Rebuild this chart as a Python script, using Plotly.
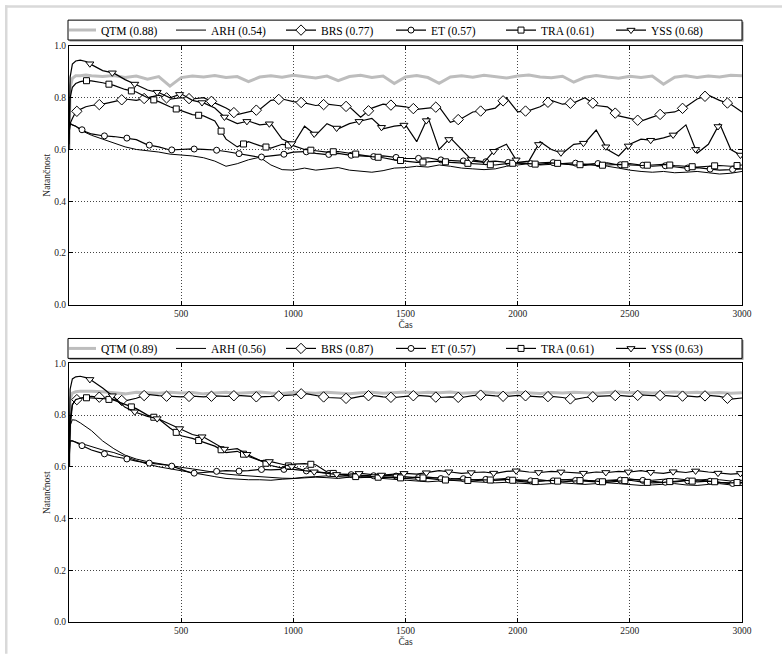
import numpy as np
import plotly.graph_objects as go

# time grid (x values)
T = [0, 5, 15, 30, 50, 75, 100] + list(range(150, 3001, 50))

# ---------------- top panel ----------------
QTM_A = [0.60, 0.84, 0.875, 0.885, 0.885, 0.888, 0.885,
         0.882, 0.886, 0.878, 0.884, 0.872, 0.882, 0.845, 0.878, 0.884, 0.880,
         0.886, 0.878, 0.882, 0.862, 0.880, 0.885, 0.879, 0.887,
         0.882, 0.876, 0.884, 0.866, 0.882, 0.887, 0.878, 0.884, 0.855, 0.880,
         0.886, 0.878, 0.856, 0.880, 0.885, 0.879, 0.887, 0.881, 0.876, 0.884,
         0.888, 0.880, 0.877, 0.883, 0.860, 0.879, 0.886, 0.880, 0.875, 0.883,
         0.878, 0.884, 0.852, 0.879, 0.885, 0.878, 0.884, 0.880, 0.887, 0.885]
ARH_A = [0.68, 0.70, 0.695, 0.69, 0.675, 0.665, 0.655,
         0.64, 0.625, 0.61, 0.60, 0.595, 0.59, 0.582, 0.578, 0.575, 0.568,
         0.555, 0.535, 0.545, 0.56, 0.57, 0.54, 0.522, 0.52,
         0.528, 0.52, 0.525, 0.53, 0.52, 0.515, 0.512, 0.518, 0.528, 0.53,
         0.535, 0.532, 0.54, 0.535, 0.528, 0.525, 0.522, 0.525, 0.535, 0.54,
         0.545, 0.54, 0.542, 0.545, 0.54, 0.538, 0.545, 0.535, 0.528, 0.52,
         0.515, 0.512, 0.515, 0.51, 0.512, 0.515, 0.51, 0.505, 0.508, 0.515]
BRS_A = [0.66, 0.70, 0.72, 0.745, 0.755, 0.765, 0.77,
         0.775, 0.785, 0.795, 0.79, 0.80, 0.81, 0.795, 0.80, 0.795, 0.80,
         0.78, 0.76, 0.735, 0.745, 0.755, 0.79, 0.795, 0.785,
         0.78, 0.77, 0.775, 0.77, 0.765, 0.725, 0.76, 0.775, 0.77, 0.765,
         0.755, 0.76, 0.765, 0.705, 0.72, 0.745, 0.75, 0.76, 0.80, 0.745,
         0.75, 0.765, 0.79, 0.775, 0.78, 0.80, 0.77, 0.765, 0.73, 0.72,
         0.71, 0.725, 0.74, 0.745, 0.765, 0.795, 0.81, 0.79, 0.775, 0.745]
ET_A = [0.66, 0.70, 0.695, 0.69, 0.68, 0.668, 0.66,
        0.653, 0.65, 0.645, 0.638, 0.618, 0.61, 0.598, 0.60, 0.602, 0.60,
        0.598, 0.592, 0.585, 0.578, 0.57, 0.575, 0.58, 0.59,
        0.592, 0.585, 0.58, 0.585, 0.578, 0.575, 0.572, 0.575, 0.57, 0.565,
        0.565, 0.568, 0.56, 0.558, 0.555, 0.56, 0.552, 0.555, 0.55, 0.548,
        0.545, 0.548, 0.55, 0.545, 0.548, 0.542, 0.545, 0.548, 0.54, 0.545,
        0.54, 0.535, 0.538, 0.532, 0.528, 0.53, 0.525, 0.52, 0.522, 0.525]
TRA_A = [0.62, 0.80, 0.84, 0.855, 0.862, 0.866, 0.865,
         0.858, 0.848, 0.832, 0.822, 0.80, 0.785, 0.765, 0.75, 0.735, 0.73,
         0.71, 0.64, 0.61, 0.63, 0.615, 0.605, 0.62, 0.615,
         0.60, 0.595, 0.59, 0.592, 0.585, 0.58, 0.572, 0.568, 0.56, 0.555,
         0.55, 0.552, 0.555, 0.55, 0.548, 0.545, 0.542, 0.54, 0.545, 0.548,
         0.545, 0.542, 0.548, 0.545, 0.54, 0.542, 0.538, 0.54, 0.542, 0.54,
         0.538, 0.54, 0.542, 0.538, 0.535, 0.532, 0.535, 0.538, 0.535, 0.54]
YSS_A = [0.60, 0.88, 0.93, 0.942, 0.945, 0.94, 0.928,
         0.905, 0.895, 0.87, 0.85, 0.83, 0.82, 0.80, 0.815, 0.79, 0.78,
         0.76, 0.72, 0.70, 0.71, 0.695, 0.70, 0.64, 0.62,
         0.69, 0.655, 0.70, 0.68, 0.70, 0.71, 0.72, 0.68, 0.69, 0.695,
         0.63, 0.725, 0.60, 0.645, 0.60, 0.555, 0.55, 0.60, 0.62, 0.55,
         0.555, 0.63, 0.60, 0.585, 0.62, 0.625, 0.675, 0.60, 0.575, 0.62,
         0.64, 0.635, 0.645, 0.658, 0.695, 0.585, 0.62, 0.70, 0.60, 0.575]

# ---------------- bottom panel ----------------
QTM_B = [0.60, 0.86, 0.885, 0.89, 0.892, 0.893, 0.892,
         0.89, 0.885, 0.882, 0.888, 0.886, 0.884, 0.888, 0.885, 0.887, 0.882,
         0.885, 0.888, 0.884, 0.886, 0.889, 0.885, 0.883, 0.888,
         0.886, 0.884, 0.888, 0.885, 0.882, 0.886, 0.888, 0.884, 0.887, 0.889,
         0.885, 0.888, 0.886, 0.889, 0.884, 0.887, 0.889, 0.886, 0.884, 0.888,
         0.886, 0.883, 0.887, 0.885, 0.888, 0.886, 0.884, 0.887, 0.889, 0.886,
         0.888, 0.885, 0.887, 0.889, 0.886, 0.888, 0.885, 0.887, 0.884, 0.886]
ARH_B = [0.60, 0.76, 0.782, 0.78, 0.77, 0.755, 0.74,
         0.70, 0.67, 0.645, 0.63, 0.62, 0.612, 0.605, 0.598, 0.592, 0.585,
         0.578, 0.572, 0.568, 0.565, 0.56, 0.558, 0.556, 0.555,
         0.56, 0.562, 0.565, 0.562, 0.56, 0.558, 0.56, 0.562, 0.558, 0.555,
         0.552, 0.555, 0.558, 0.555, 0.552, 0.55, 0.548, 0.552, 0.555, 0.55,
         0.548, 0.545, 0.548, 0.55, 0.552, 0.548, 0.545, 0.548, 0.55, 0.552,
         0.55, 0.548, 0.552, 0.555, 0.55, 0.548, 0.552, 0.55, 0.545, 0.548]
EXTRA_B = [0.62, 0.70, 0.70, 0.695, 0.69, 0.685, 0.678,
           0.665, 0.655, 0.64, 0.625, 0.61, 0.60, 0.592, 0.585, 0.578, 0.57,
           0.562, 0.555, 0.552, 0.55, 0.55, 0.548, 0.552, 0.555,
           0.558, 0.56, 0.558, 0.555, 0.56, 0.562, 0.558, 0.555, 0.55, 0.548,
           0.545, 0.542, 0.545, 0.548, 0.545, 0.542, 0.54, 0.538, 0.54, 0.538,
           0.535, 0.532, 0.535, 0.538, 0.535, 0.532, 0.535, 0.538, 0.535, 0.532,
           0.528, 0.53, 0.532, 0.535, 0.53, 0.528, 0.532, 0.535, 0.53, 0.528]
BRS_B = [0.62, 0.75, 0.84, 0.858, 0.865, 0.87, 0.872,
         0.868, 0.86, 0.855, 0.865, 0.88, 0.875, 0.872, 0.87, 0.873, 0.87,
         0.874, 0.872, 0.876, 0.872, 0.87, 0.872, 0.875, 0.878,
         0.884, 0.875, 0.868, 0.866, 0.864, 0.872, 0.876, 0.87, 0.868, 0.872,
         0.876, 0.873, 0.868, 0.87, 0.868, 0.875, 0.878, 0.874, 0.872, 0.876,
         0.874, 0.87, 0.872, 0.868, 0.86, 0.868, 0.872, 0.874, 0.876, 0.872,
         0.878, 0.875, 0.876, 0.872, 0.874, 0.87, 0.876, 0.872, 0.862, 0.866]
ET_B = [0.62, 0.70, 0.70, 0.695, 0.685, 0.675, 0.665,
        0.652, 0.64, 0.632, 0.622, 0.615, 0.61, 0.605, 0.59, 0.575, 0.578,
        0.582, 0.585, 0.583, 0.585, 0.59, 0.588, 0.59, 0.59,
        0.585, 0.58, 0.575, 0.572, 0.57, 0.568, 0.565, 0.568, 0.565, 0.56,
        0.558, 0.56, 0.555, 0.552, 0.555, 0.55, 0.552, 0.548, 0.55, 0.548,
        0.545, 0.55, 0.545, 0.55, 0.548, 0.545, 0.542, 0.545, 0.548, 0.552,
        0.548, 0.545, 0.54, 0.542, 0.545, 0.55, 0.545, 0.54, 0.535, 0.538]
TRA_B = [0.60, 0.78, 0.84, 0.86, 0.865, 0.867, 0.866,
         0.864, 0.858, 0.84, 0.825, 0.80, 0.785, 0.75, 0.72, 0.71, 0.695,
         0.68, 0.655, 0.66, 0.64, 0.625, 0.605, 0.595, 0.61,
         0.612, 0.608, 0.58, 0.57, 0.565, 0.56, 0.562, 0.558, 0.56, 0.555,
         0.56, 0.555, 0.55, 0.548, 0.55, 0.545, 0.55, 0.548, 0.552, 0.545,
         0.54, 0.545, 0.548, 0.542, 0.545, 0.548, 0.545, 0.54, 0.545, 0.548,
         0.542, 0.538, 0.54, 0.545, 0.548, 0.542, 0.545, 0.54, 0.538, 0.54]
YSS_B = [0.60, 0.90, 0.94, 0.948, 0.95, 0.945, 0.935,
         0.905, 0.87, 0.83, 0.81, 0.795, 0.785, 0.765, 0.745, 0.725, 0.715,
         0.69, 0.665, 0.67, 0.645, 0.625, 0.62, 0.61, 0.60,
         0.585, 0.58, 0.575, 0.57, 0.572, 0.575, 0.57, 0.568, 0.572, 0.575,
         0.572, 0.578, 0.585, 0.58, 0.575, 0.578, 0.58, 0.575, 0.582, 0.585,
         0.58, 0.578, 0.582, 0.58, 0.578, 0.575, 0.58, 0.578, 0.582, 0.58,
         0.585, 0.578, 0.575, 0.582, 0.578, 0.585, 0.58, 0.575, 0.572, 0.575]

LABELS_A = ["QTM (0.88)", "ARH (0.54)", "BRS (0.77)", "ET (0.57)", "TRA (0.61)", "YSS (0.68)"]
LABELS_B = ["QTM (0.89)", "ARH (0.56)", "BRS (0.87)", "ET (0.57)", "TRA (0.61)", "YSS (0.63)"]
X_TICKS = [500, 1000, 1500, 2000, 2500, 3000]
Y_TICKS = [0.0, 0.2, 0.4, 0.6, 0.8, 1.0]

FONT = "Liberation Serif, Times New Roman, serif"

# style per series: (line color, width, marker symbol, marker size, marker offset)
STYLES = [
    ("#bdbdbd", 3.0, None, 0, 0),
    ("black", 1.0, None, 0, 0),
    ("black", 1.2, "diamond", 8, 35),
    ("black", 1.2, "circle", 6, 58),
    ("black", 1.2, "square", 6, 78),
    ("black", 1.2, "triangle-down", 7, 93),
]

fig = go.Figure()


def add_panel(series, labels, xa, ya, legend):
    for vals, lab, st in zip(series, labels, STYLES):
        color, width, sym, msize, off = st
        fig.add_trace(go.Scatter(x=T, y=vals, mode="lines", xaxis=xa, yaxis=ya,
                                 line=dict(color=color, width=width),
                                 showlegend=False, hoverinfo="skip"))
        if sym:
            xm = np.arange(off, 3001, 100)
            ym = np.interp(xm, T, vals)
            fig.add_trace(go.Scatter(x=xm, y=ym, mode="markers", xaxis=xa, yaxis=ya,
                                     marker=dict(symbol=sym, size=msize, color="white",
                                                 line=dict(color="black", width=1)),
                                     showlegend=False, hoverinfo="skip"))
        # legend entry
        fig.add_trace(go.Scatter(x=[None], y=[None], mode="lines+markers" if sym else "lines",
                                 xaxis=xa, yaxis=ya, name=lab, legend=legend,
                                 line=dict(color=color, width=width),
                                 marker=dict(symbol=sym or "circle", size=msize, color="white",
                                             line=dict(color="black", width=1))))


add_panel([QTM_A, ARH_A, BRS_A, ET_A, TRA_A, YSS_A], LABELS_A, "x", "y", "legend")
# unlabeled extra curve in the lower panel
fig.add_trace(go.Scatter(x=T, y=EXTRA_B, mode="lines", xaxis="x2", yaxis="y2",
                         line=dict(color="black", width=1.0), showlegend=False, hoverinfo="skip"))
add_panel([QTM_B, ARH_B, BRS_B, ET_B, TRA_B, YSS_B], LABELS_B, "x2", "y2", "legend2")

axis_common = dict(showline=True, linecolor="black", linewidth=1, mirror="allticks",
                   ticks="inside", ticklen=4, tickcolor="black",
                   showgrid=True, gridcolor="#444444", griddash="1px,2px", gridwidth=1,
                   zeroline=False, tickfont=dict(family=FONT, size=9.5, color="#222"))

xa = dict(axis_common, range=[0, 3000], tickvals=X_TICKS,
          title=dict(text="Čas", font=dict(family=FONT, size=9.5, color="#222"), standoff=2))
ya = dict(axis_common, range=[0, 1], tickvals=Y_TICKS, tickformat=".1f",
          title=dict(text="Natančnost", font=dict(family=FONT, size=9.5, color="#222"), standoff=1))

L, R, TOP, B = 69, 40, 46, 32
W, H = 782, 657
PW, PH = W - L - R, H - TOP - B


def px_x(p):
    return (p - L) / PW


def px_y(p):
    return 1 - (p - TOP) / PH


def legend_box(top):
    # shadow + framed box drawn behind the (borderless) legend
    return [
        dict(type="rect", xref="paper", yref="paper", x0=px_x(69.5), x1=px_x(743.5),
             y0=px_y(top + 21.5), y1=px_y(top + 1.5), fillcolor="#8a8a8a",
             line=dict(width=0), layer="below"),
        dict(type="rect", xref="paper", yref="paper", x0=px_x(68), x1=px_x(742),
             y0=px_y(top + 20), y1=px_y(top), fillcolor="white",
             line=dict(color="black", width=1), layer="below"),
    ]


legend_common = dict(orientation="h", xanchor="left", yanchor="middle", x=0,
                     borderwidth=0, bgcolor="rgba(0,0,0,0)", itemwidth=30, indentation=-8,
                     font=dict(family=FONT, size=11.5), entrywidth=73, entrywidthmode="pixels")

fig.update_layout(
    width=W, height=H,
    margin=dict(l=L, r=R, t=TOP, b=B),
    paper_bgcolor="white", plot_bgcolor="white",
    font=dict(family=FONT, color="black"),
    xaxis=dict(xa, domain=[0, 1], anchor="y"),
    yaxis=dict(ya, domain=[px_y(306), 1], anchor="x"),
    xaxis2=dict(xa, domain=[0, 1], anchor="y2"),
    yaxis2=dict(ya, domain=[0, px_y(365)], anchor="x2"),
    legend=dict(legend_common, y=px_y(30)),
    legend2=dict(legend_common, y=px_y(350)),
    shapes=[
        dict(type="rect", xref="paper", yref="paper", x0=px_x(5), x1=px_x(7.5),
             y0=px_y(657), y1=px_y(5), fillcolor="#d9d9d9", line=dict(width=0), layer="below"),
        dict(type="rect", xref="paper", yref="paper", x0=px_x(5), x1=px_x(782),
             y0=px_y(7.5), y1=px_y(5), fillcolor="#d9d9d9", line=dict(width=0), layer="below"),
    ] + legend_box(20) + legend_box(340),
)

fig.write_html("out.html")
